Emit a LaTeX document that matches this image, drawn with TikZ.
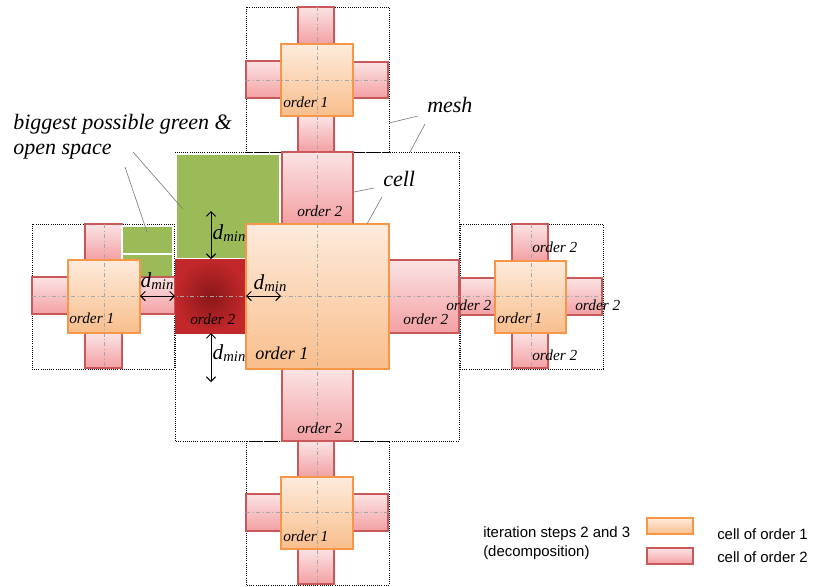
\documentclass[tikz,border=0pt]{standalone}
\usepackage{fontspec}
\setmainfont{Liberation Serif}
\newfontfamily\legendfont{Liberation Sans}
\usetikzlibrary{arrows.meta}
\definecolor{otop}{HTML}{FDEBDC}
\definecolor{obot}{HTML}{F9BE8C}
\definecolor{oborder}{HTML}{F79646}
\definecolor{ptop}{HTML}{FBE3E4}
\definecolor{pbot}{HTML}{F3A0A3}
\definecolor{pborder}{HTML}{C9585A}
\definecolor{gfill}{HTML}{9BBB59}
\definecolor{dredin}{HTML}{8A1719}
\definecolor{dredout}{HTML}{C2282B}
\definecolor{cgray}{HTML}{A6A6A6}
\definecolor{lgray}{HTML}{808080}
\newcommand{\dmn}{{\fontsize{16}{18}\selectfont\itshape d}\raisebox{-0.45ex}{\fontsize{11}{12}\selectfont\itshape min}}
\begin{document}
\begin{tikzpicture}[x=0.75pt,y=-0.75pt,
  meshbox/.style={draw=black, densely dotted, line width=0.6pt},
  obox/.style={draw=oborder, line width=0.9pt, top color=otop, bottom color=obot},
  pbox/.style={draw=pborder, line width=0.9pt, top color=ptop, bottom color=pbot},
  gbox/.style={fill=gfill, draw=white, line width=0.8pt},
  cline/.style={draw=cgray, dash dot, line width=0.6pt},
  dimarrow/.style={{Straight Barb[length=3.5pt,width=7pt]}-{Straight Barb[length=3.5pt,width=7pt]}, line width=0.7pt},
  leader/.style={draw=lgray, line width=0.5pt},
  ordlab/.style={font=\itshape\fontsize{11.5}{13}\selectfont, inner sep=0pt, anchor=west},
  bigordlab/.style={font=\itshape\fontsize{13.6}{15}\selectfont, inner sep=0pt, anchor=west},
  dlab/.style={inner sep=0pt},
  callout/.style={font=\itshape\fontsize{16.5}{19}\selectfont, inner sep=0pt, anchor=west},
  legtext/.style={font=\legendfont\fontsize{11.2}{14}\selectfont, inner sep=0pt, anchor=west, align=left}
]
\useasboundingbox (0,0) rectangle (816,586);

% mesh boxes
\draw[meshbox] (246,7) rectangle (389,152);
\draw[meshbox] (175,152) rectangle (459,441);
\draw[meshbox] (32,224) rectangle (174,369);
\draw[meshbox] (460,224) rectangle (603,369);
\draw[meshbox] (246,441) rectangle (389,585);

% top cell
\draw[pbox] (298,7) rectangle (334,44);
\draw[pbox] (298,116) rectangle (334,152);
\draw[pbox] (246,61) rectangle (281,98);
\draw[pbox] (353,62) rectangle (388,98);
\draw[obox] (281,44) rectangle (353,116);

% bottom cell
\draw[pbox] (298,441) rectangle (334,477);
\draw[pbox] (298,549) rectangle (334,584);
\draw[pbox] (246,494) rectangle (281,531);
\draw[pbox] (353,494) rectangle (388,531);
\draw[obox] (281,477) rectangle (353,549);

% left cell
\draw[pbox] (85,224) rectangle (122,260);
\draw[pbox] (85,333) rectangle (122,368);
\draw[gbox] (122,226) rectangle (173,254);
\draw[gbox] (122,254) rectangle (173,277);
\draw[pbox] (32,277) rectangle (68,314);
\draw[pbox] (140,277) rectangle (175,314);
\draw[obox] (68,260) rectangle (140,333);

% right cell
\draw[pbox] (512,224) rectangle (548,261);
\draw[pbox] (512,333) rectangle (548,368);
\draw[pbox] (460,278) rectangle (495,315);
\draw[pbox] (566,278) rectangle (602,315);
\draw[obox] (495,261) rectangle (566,333);

% center cell
\draw[gbox] (176,154) rectangle (280,259);
\draw[pbox] (282,152) rectangle (353,224);
\draw[pbox] (282,369) rectangle (353,441);
\draw[pbox] (389,260) rectangle (459,333);
\shade[inner color=dredin, outer color=dredout] (175,259) rectangle (246,333);
\draw[dredout, line width=0.6pt] (175,259) rectangle (246,333);
\draw[obox] (246,224) rectangle (389,369);

% centre lines
\draw[cline] (317,7) -- (317,585);
\draw[cline] (32,296) -- (603,296);
\draw[cline] (246,80) -- (389,80);
\draw[cline] (246,512) -- (389,512);
\draw[cline] (104,224) -- (104,369);
\draw[cline] (531,224) -- (531,369);

% labels
\node[ordlab] (t1) at (283,102) {order 1};
\node[ordlab] (c2t) at (297,211) {order 2};
\node[bigordlab] (c1) at (255,353) {order 1};
\node[ordlab] (c2r) at (403,319) {order 2};
\node[ordlab] (c2d) at (190,319) {order 2};
\node[ordlab] (c2b) at (297,428) {order 2};
\node[ordlab] (l1) at (69,318) {order 1};
\node[ordlab] (r1) at (497,318) {order 1};
\node[ordlab] (r2t) at (532,247) {order 2};
\node[ordlab] (r2b) at (532,355) {order 2};
\node[ordlab] (r2r) at (575,305) {order 2};
\node[ordlab] (r2l) at (446,305) {order 2};
\node[ordlab] (b1) at (283,536) {order 1};

% d_min arrows
\coordinate (ha1) at (140,296); \coordinate (ha2) at (175,296);
\coordinate (hb1) at (246,296); \coordinate (hb2) at (281,296);
\coordinate (va1) at (211,211); \coordinate (va2) at (211,259);
\coordinate (vb1) at (211,333); \coordinate (vb2) at (211,382);
\draw[dimarrow] (ha1) -- (ha2);
\draw[dimarrow] (hb1) -- (hb2);
\draw[dimarrow] (va1) -- (va2);
\draw[dimarrow] (vb1) -- (vb2);
\node[dlab] (dA) at (157,281) {\dmn};
\node[dlab] (dB) at (270,283) {\dmn};
\node[dlab] (dC) at (229,233) {\dmn};
\node[dlab] (dD) at (229,353) {\dmn};

% callouts
\node[callout] (mesh) at (427,105) {mesh};
\node[callout] (cell) at (383,179) {cell};
\node[callout] (green1) at (13,124) {biggest possible green \&};
\node[callout] (green2) at (13,152) {open space};
\coordinate (m1) at (389,123); \coordinate (m1e) at (418,116);
\coordinate (m2) at (410,152); \coordinate (m2e) at (425,124);
\coordinate (c1s) at (354,192); \coordinate (c1e) at (374,188);
\coordinate (c2s) at (367,224); \coordinate (c2e) at (382,197);
\coordinate (g1s) at (125,167); \coordinate (g1e) at (147,232);
\coordinate (g2s) at (133,152); \coordinate (g2e) at (183,209);
\draw[leader] (m1) -- (m1e);
\draw[leader] (m2) -- (m2e);
\draw[leader] (c1s) -- (c1e);
\draw[leader] (c2s) -- (c2e);
\draw[leader] (g1s) -- (g1e);
\draw[leader] (g2s) -- (g2e);

% legend
\node[legtext] (it) at (483,543) {iteration steps 2 and 3\\(decomposition)};
\draw[obox] (647,518) rectangle (693,534);
\draw[pbox] (647,548) rectangle (693,564);
\node[legtext] (lo1) at (717,534) {cell of order 1};
\node[legtext] (lo2) at (717,557) {cell of order 2};
\end{tikzpicture}
\end{document}
